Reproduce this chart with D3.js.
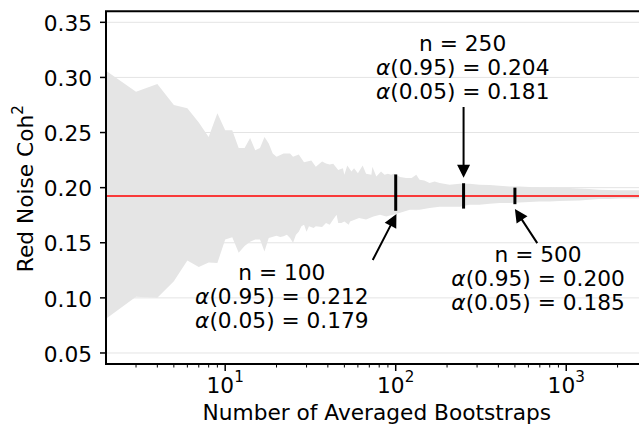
<!DOCTYPE html>
<html><head><meta charset="utf-8">
<script src="https://cdn.jsdelivr.net/npm/d3@7"></script>
<style>body{margin:0;background:#fff} text{font-family:"DejaVu Sans",sans-serif;fill:#000}</style>
</head><body><svg id="c" width="639" height="425"></svg>
<script>
// ---- data ----
const upperN = [2,3,4,5,6,7,8,9,10,11,12,13,14,15,16,17,18,19,20,22,24,25,27,29,32,34,37,39,41,43,46,49,50,52,55,57,60,64,67,72,73,77,82,86,90,94,97,100,106,115,124,132,138,147,158,169,181,207,237,271,310,355,406,464,531,608,695,796,910,1042,1192,1364,1561,1785,2042,3000];
const upperV = [0.306,0.287,0.294,0.275,0.272,0.259,0.246,0.2676,0.252,0.252,0.236,0.236,0.245,0.234,0.236,0.246,0.240,0.231,0.228,0.231,0.231,0.228,0.230,0.223,0.2246,0.219,0.2237,0.222,0.221,0.2216,0.216,0.2177,0.2117,0.220,0.2147,0.2177,0.213,0.220,0.2126,0.2117,0.219,0.2102,0.2147,0.2117,0.2126,0.2117,0.2126,0.212,0.2096,0.2087,0.2087,0.2117,0.2072,0.2065,0.2042,0.2056,0.2042,0.2026,0.2035,0.2035,0.2026,0.2024,0.2017,0.2011,0.2011,0.2005,0.1999,0.1999,0.1996,0.1996,0.1993,0.1988,0.1982,0.1979,0.1976,0.1975];
const lowerN = [2,3,4,5,6,7,8,9,10,11,12,13,14,15,16,17,18,20,21,22,23,24,25,26,27,28,29,30,31,33,34,37,39,41,43,45,46,48,50,53,54,61,67,74,81,88,96,100,105,121,138,158,181,207,237,271,310,355,406,464,531,608,695,796,910,1042,1192,1364,1561,1785,2042,3000];
const lowerV = [0.081,0.101,0.100,0.115,0.134,0.128,0.132,0.1317,0.153,0.155,0.141,0.147,0.151,0.153,0.153,0.142,0.1543,0.1564,0.1552,0.156,0.1573,0.1543,0.150,0.1573,0.160,0.1649,0.1664,0.160,0.1649,0.1634,0.1649,0.1643,0.1679,0.1664,0.171,0.1755,0.1679,0.1679,0.1694,0.1664,0.1694,0.1725,0.171,0.1739,0.1755,0.1739,0.1755,0.176,0.177,0.180,0.180,0.1815,0.1827,0.1827,0.1827,0.1845,0.1845,0.1854,0.1860,0.1860,0.1866,0.1869,0.1875,0.1875,0.1879,0.1881,0.1884,0.1890,0.1896,0.1898,0.1901,0.1902];
const meanValue = 0.1925;
const markerN = [100, 250, 500];
const markerHi = [0.212, 0.204, 0.200];
const markerLo = [0.179, 0.181, 0.185];
const yTickValues = [0.05, 0.10, 0.15, 0.20, 0.25, 0.30, 0.35];
const yTickLabels = ["0.05", "0.10", "0.15", "0.20", "0.25", "0.30", "0.35"];
const xMajorTicks = [10, 100, 1000];
const xTickBase = ["10", "10", "10"];
const xTickExp = ["1", "2", "3"];
const xLabel = "Number of Averaged Bootstraps";
const yLabel = "Red Noise Coh";
const yLabelSup = "2";

// ---- annotation layout (positions in data coordinates) ----
const annText = [[21.5, 0.1165], [247, 0.3242], [684, 0.1325]];
const annFrom = [[73.3, 0.1343], [250, 0.2731], [676, 0.1497]];
const annTo = [[101, 0.176], [250, 0.209], [500, 0.1806]];

// ---- drawing ----
const svg = d3.select("#c");
const L = 106, R = 647.6, T = 11.3, B = 364;
const x = d3.scaleLog().domain([2, 3000]).range([L, R]);
const y = d3.scaleLinear().domain([0.04, 0.36]).range([B, T]);
const FS = 21.7;

svg.append("defs").append("clipPath").attr("id", "clip")
  .append("rect").attr("x", L).attr("y", T).attr("width", R - L).attr("height", B - T);

// grid
svg.append("g").selectAll("line").data(yTickValues).join("line")
  .attr("x1", L).attr("x2", R)
  .attr("y1", d => y(d)).attr("y2", d => y(d))
  .attr("stroke", "#e4e4e4").attr("stroke-width", 1);

// band
const upperPts = upperN.map((n, i) => [x(n), y(upperV[i])]);
const lowerPts = lowerN.map((n, i) => [x(n), y(lowerV[i])]).reverse();
svg.append("path").attr("clip-path", "url(#clip)")
  .attr("d", d3.line()(upperPts.concat(lowerPts)) + "Z")
  .attr("fill", "#e5e5e5").attr("stroke", "none");

// mean line
svg.append("line").attr("x1", L).attr("x2", R)
  .attr("y1", y(meanValue)).attr("y2", y(meanValue))
  .attr("stroke", "#ff0000").attr("stroke-width", 1.5);

// markers
svg.append("g").selectAll("line").data(markerN).join("line")
  .attr("x1", d => x(d)).attr("x2", d => x(d))
  .attr("y1", (d, i) => y(markerHi[i])).attr("y2", (d, i) => y(markerLo[i]))
  .attr("stroke", "#000").attr("stroke-width", 3);

// arrows
function arrowPath(p0, p1) {
  const dx = p1[0] - p0[0], dy = p1[1] - p0[1];
  const len = Math.hypot(dx, dy), ux = dx / len, uy = dy / len;
  const px = -uy, py = ux, sw = 1, hw = 6.5, hl = 13;
  const bx = p1[0] - ux * hl, by = p1[1] - uy * hl;
  const pts = [
    [p0[0] + px * sw, p0[1] + py * sw], [bx + px * sw, by + py * sw], [bx + px * hw, by + py * hw],
    p1, [bx - px * hw, by - py * hw], [bx - px * sw, by - py * sw], [p0[0] - px * sw, p0[1] - py * sw]];
  return d3.line()(pts) + "Z";
}
annFrom.forEach((f, i) => {
  svg.append("path")
    .attr("d", arrowPath([x(f[0]), y(f[1])], [x(annTo[i][0]), y(annTo[i][1])]))
    .attr("fill", "#000").attr("stroke", "none");
});

// annotation texts
annText.forEach((t, i) => {
  const cx = x(t[0]), by = y(t[1]);
  const g = svg.append("text").attr("text-anchor", "middle").attr("font-size", FS);
  g.append("tspan").attr("x", cx).attr("y", by).text("n = " + markerN[i]);
  const l2 = g.append("tspan").attr("x", cx).attr("y", by + 24);
  l2.append("tspan").attr("font-style", "italic").text("α");
  l2.append("tspan").text("(0.95) = " + markerHi[i].toFixed(3));
  const l3 = g.append("tspan").attr("x", cx).attr("y", by + 48);
  l3.append("tspan").attr("font-style", "italic").text("α");
  l3.append("tspan").text("(0.05) = " + markerLo[i].toFixed(3));
});

// spines
svg.append("line").attr("x1", L).attr("x2", L).attr("y1", T).attr("y2", B + 1)
  .attr("stroke", "#000").attr("stroke-width", 2);
svg.append("line").attr("x1", L - 1).attr("x2", R).attr("y1", B).attr("y2", B)
  .attr("stroke", "#000").attr("stroke-width", 2);
svg.append("line").attr("x1", L - 1).attr("x2", R).attr("y1", T).attr("y2", T)
  .attr("stroke", "#000").attr("stroke-width", 2);

// y ticks
const yt = svg.append("g");
yTickValues.forEach((v, i) => {
  yt.append("line").attr("x1", L - 6).attr("x2", L).attr("y1", y(v)).attr("y2", y(v))
    .attr("stroke", "#000").attr("stroke-width", 1.5);
  yt.append("text").attr("x", L - 14).attr("y", y(v) + 8.7).attr("text-anchor", "end")
    .attr("font-size", FS).text(yTickLabels[i]);
});

// x ticks
const minor = x.ticks().filter(t => !xMajorTicks.includes(t) && x(t) > L && x(t) < 639);
svg.append("g").selectAll("line").data(minor).join("line")
  .attr("x1", d => x(d)).attr("x2", d => x(d)).attr("y1", B).attr("y2", B + 3.5)
  .attr("stroke", "#000").attr("stroke-width", 1);
xMajorTicks.forEach((t, i) => {
  svg.append("line").attr("x1", x(t)).attr("x2", x(t)).attr("y1", B).attr("y2", B + 7)
    .attr("stroke", "#000").attr("stroke-width", 1.5);
  const tx = svg.append("text").attr("x", x(t)).attr("y", 392.7).attr("text-anchor", "middle")
    .attr("font-size", FS);
  tx.append("tspan").text(xTickBase[i]);
  tx.append("tspan").attr("font-size", FS * 0.7).attr("dy", -10.5).text(xTickExp[i]);
});

// axis labels
svg.append("text").attr("x", (L + R) / 2).attr("y", 420).attr("text-anchor", "middle")
  .attr("font-size", FS).text(xLabel);
const yl = svg.append("text").attr("transform", `translate(33,${(T + B) / 2 + 1}) rotate(-90)`)
  .attr("text-anchor", "middle").attr("font-size", FS);
yl.append("tspan").text(yLabel);
yl.append("tspan").attr("font-size", FS * 0.7).attr("dy", -10).text(yLabelSup);
</script></body></html>
